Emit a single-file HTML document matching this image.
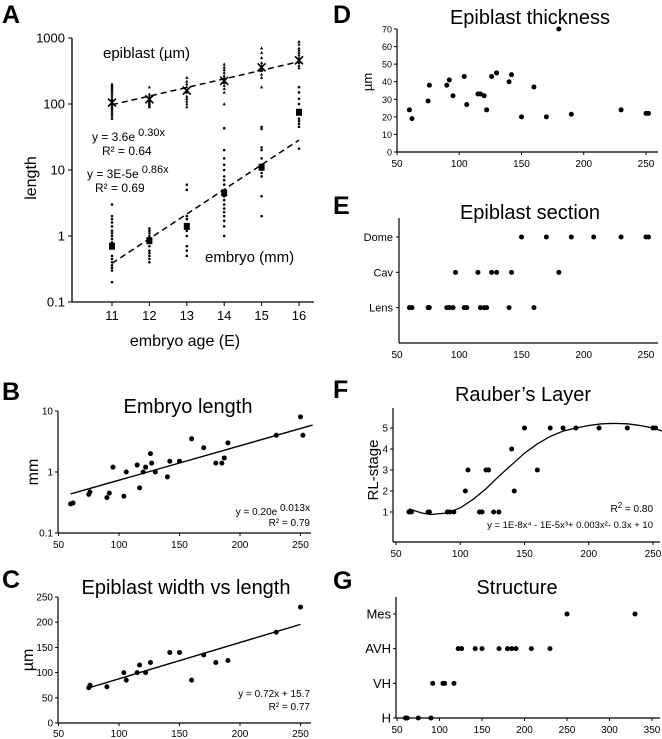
<!DOCTYPE html>
<html><head><meta charset="utf-8"><style>
body{margin:0;background:#fff}
svg{display:block;font-family:"Liberation Sans",Arial,sans-serif}
</style></head><body>
<svg id="fig" width="662" height="739" viewBox="0 0 662 739"></svg>
<script>
// ---------- Panel A data ----------
const aAges=[11,12,13,14,15,16];
const aEpiPts=[[60,65,70,75,80,85,90,95,100,110,115,120,130,140,150,160,170,180,190,200],[90,95,100,105,110,115,120,130,140,180],[90,100,110,120,130,150,160,180,200,220,250],[100,150,170,190,210,230,250,270,300,330,360,400],[180,250,280,320,350,380,420,500,600,700],[350,380,420,450,500,550,600,650,700,800,880]];
const aEpiMean=[105,118,160,225,360,460];
const aEmbPts=[[0.2,0.3,0.33,0.36,0.4,0.45,0.5,0.8,0.9,1.0,1.1,1.2,1.4,1.6,1.8,2.0,3.0],[0.4,0.45,0.5,0.55,0.6,0.7,0.9,1.0,1.1,1.2,1.3],[0.5,0.6,0.7,1.0,1.2,1.5,1.8,2.0,5.0,6.0],[1.0,1.4,1.7,2.0,2.3,2.6,3.0,3.5,4.0,6.0,7.0,8.0,10,12,15,20,43],[2,4,8,9,12,15,20,22,42,45],[21,45,50,55,60,100,120,150,180]];
const aEmbMean=[0.7,0.85,1.4,4.5,11,75];
const aYTicks=[0.1,1,10,100,1000];
const aYLabels=["0.1","1","10","100","1000"];
// ---------- Panel B ----------
const bX=[60,62,75,76,90,92,95,104,106,115,117,120,122,126,127,130,140,142,150,160,170,180,185,187,190,230,250,252];
const bY=[0.30,0.31,0.43,0.47,0.38,0.45,1.2,0.40,1.0,1.3,0.55,1.0,1.2,2.0,1.4,1.0,0.83,1.5,1.5,3.5,2.5,1.4,1.4,1.7,3.0,4.0,8.0,4.0];
const bYTicks=[0.1,1,10];
const bYLabels=["0.1","1","10"];
// ---------- Panel C ----------
const cX=[75,76,90,104,106,115,117,122,126,142,150,160,170,180,190,230,250];
const cY=[70,75,72,100,85,100,115,100,120,140,140,85,135,120,124,180,230];
const cYTicks=[0,50,100,150,200,250];
// ---------- Panel D ----------
const dX=[60,62,75,76,90,92,95,104,106,115,117,120,122,126,130,140,142,150,160,170,180,190,230,250,252];
const dY=[24,19,29,38,38,41,32,43,27,33,33,32,24,43,45,40,44,20,37,20,70,21.5,24,22,22];
const dYTicks=[0,10,20,30,40,50,60,70];
// ---------- Panel E ----------
const eCats=["Lens","Cav","Dome"];
const eX=[60,62,75,76,90,92,95,104,106,117,120,122,140,160,97,115,126,130,142,180,150,170,190,208,230,250,252];
const eY=[1,1,1,1,1,1,1,1,1,1,1,1,1,1,2,2,2,2,2,2,3,3,3,3,3,3,3];
// ---------- Panel F ----------
const fX=[60,62,75,76,90,92,95,104,106,115,117,120,122,126,130,140,142,150,160,170,180,190,208,230,250,252];
const fY=[1,1,1,1,1,1,1,2,3,1,1,3,3,1,1,4,2,5,3,5,5,5,5,5,5,5];
const fFitX=[60,70,77,90,100,110,120,130,140,150,160,170,180,190,200,210,220,230,240,250,260];
const fFitY=[1.15,0.95,0.88,0.95,1.2,1.6,2.1,2.7,3.25,3.8,4.25,4.6,4.85,5.0,5.12,5.2,5.22,5.2,5.12,5.0,4.8];
const fYTicks=[1,2,3,4,5];
// ---------- Panel G ----------
const gCats=["H","VH","AVH","Mes"];
const gX=[60,62,75,90,92,104,106,117,122,126,142,150,170,180,185,190,208,230,250,330];
const gY=[0,0,0,0,1,1,1,1,2,2,2,2,2,2,2,2,2,2,3,3];
const xTicks250=[50,100,150,200,250];
const gXTicks=[50,100,150,200,250,300,350];

const NS="http://www.w3.org/2000/svg";
const svg=document.getElementById('fig');
function el(tag,attrs,parent,txt){const e=document.createElementNS(NS,tag);for(const k in attrs)e.setAttribute(k,attrs[k]);if(txt!==undefined)e.textContent=txt;(parent||svg).appendChild(e);return e;}
function grp(name){const g=el('g',{});return g;}
function txt(g,x,y,s,size,anchor,name,extra){const t=el('text',Object.assign({x:x,y:y,'font-size':size,'text-anchor':anchor||'start',fill:'#000'},extra||{}),g,s);return t;}
function line(g,x1,y1,x2,y2,w,dash){return el('line',Object.assign({x1:x1,y1:y1,x2:x2,y2:y2,stroke:'#000','stroke-width':w||1},dash?{'stroke-dasharray':dash}:{}),g);}
function dot(g,x,y,r,name){const c=el('circle',{cx:x,cy:y,r:r,fill:'#000'},g);return c;}
function lin(d0,d1,r0,r1){return v=>r0+(v-d0)/(d1-d0)*(r1-r0);}
function logs(d0,d1,r0,r1){return v=>r0+(Math.log10(v)-Math.log10(d0))/(Math.log10(d1)-Math.log10(d0))*(r1-r0);}

// ===== Panel A =====
(function(){
 const g=grp('panel-a');
 const x=lin(11,16,112,299), y=logs(0.1,1000,302,38);
 txt(g,2,23,'A',25,'start','panel-label-a',{'font-weight':'bold'});
 line(g,72,38,72,302,1.3); line(g,72,302,314,302,1.3);
 aYTicks.forEach((v,i)=>{line(g,68,y(v),72,y(v));txt(g,65,y(v)+4.5,aYLabels[i],13,'end','y-tick-label');});
 aAges.forEach(a=>{line(g,x(a),302,x(a),306);txt(g,x(a),320,String(a),13,'middle','x-tick-label');});
 txt(g,185,346,'embryo age (E)',16,'middle','x-axis-title');
 txt(g,0,0,'length',16,'middle','y-axis-title',{transform:'translate(36,178) rotate(-90)'});
 const ef=a=>3.6*Math.exp(0.30*a), mf=a=>3e-5*Math.exp(0.86*a);
 const l1=line(g,x(11),y(ef(11)),x(16),y(ef(16)),1.5,'6,4');
 const l2=line(g,x(11),y(mf(11)),x(16),y(mf(16)),1.5,'6,4');
 aAges.forEach((a,i)=>{
  aEpiPts[i].forEach(v=>{const p=el('polygon',{points:`${x(a)},${y(v)-1.8} ${x(a)-1.6},${y(v)+1.2} ${x(a)+1.6},${y(v)+1.2}`,fill:'#000'},g);});
  aEmbPts[i].forEach(v=>{dot(g,x(a),y(v),1.3,'embryo-point');});
  const ym=y(aEpiMean[i]);
  const m=el('path',{d:`M${x(a)-4},${ym-4}L${x(a)+4},${ym+4}M${x(a)-4},${ym+4}L${x(a)+4},${ym-4}`,stroke:'#000','stroke-width':1.6},g);
  const yq=y(aEmbMean[i]);
  const s=el('rect',{x:x(a)-3,y:yq-3.5,width:6,height:7,fill:'#000'},g);
 });
 txt(g,103,58,'epiblast (\u00b5m)',15,'start','epiblast-label');
 txt(g,205,262,'embryo (mm)',15,'start','embryo-label');
 const t1=txt(g,92,141,'y = 3.6e',12,'start','epiblast-equation');el('tspan',{dy:-5,'font-size':11},t1,' 0.30x');
 txt(g,102,155,'R\u00b2 = 0.64',12,'start','epiblast-r2');
 const t2=txt(g,87,178,'y = 3E-5e',12,'start','embryo-equation');el('tspan',{dy:-5,'font-size':11},t2,' 0.86x');
 txt(g,95,192,'R\u00b2 = 0.69',12,'start','embryo-r2');
})();

function scatterAxes(g,x0,y0,x1,yTop){line(g,x0,yTop,x0,y0,1.2);line(g,x0,y0,x1,y0,1.2);}

// ===== Panel B =====
(function(){
 const g=grp('panel-b');
 const x=lin(50,250,58.5,300.5), y=logs(0.1,10,533,411);
 txt(g,2,400,'B',25,'start','panel-label-b',{'font-weight':'bold'});
 scatterAxes(g,58,533,311,411);
 bYTicks.forEach((v,i)=>{line(g,55,y(v),58,y(v));txt(g,53,y(v)+3.5,bYLabels[i],10,'end','y-tick-label');});
 xTicks250.forEach(v=>{line(g,x(v),533,x(v),536);txt(g,x(v),548,String(v),10,'middle','x-tick-label');});
 txt(g,188,413,'Embryo length',20,'middle','chart-title');
 txt(g,0,0,'mm',16,'middle','y-axis-title',{transform:'translate(38,472) rotate(-90)'});
 const f=v=>0.20*Math.exp(0.013*v);
 const tl=line(g,x(60),y(f(60)),x(260),y(f(260)),1.4);
 bX.forEach((v,i)=>dot(g,x(v),y(bY[i]),2.5,'data-point'));
 const t=txt(g,310,515,'y = 0.20e',10,'end','equation');
 el('tspan',{dy:-4},t,' 0.013x');
 txt(g,310,526,'R\u00b2 = 0.79',10,'end','r-squared');
})();

// ===== Panel C =====
(function(){
 const g=grp('panel-c');
 const x=lin(50,250,58.5,300.5), y=lin(0,250,723,597);
 txt(g,2,588,'C',25,'start','panel-label-c',{'font-weight':'bold'});
 scatterAxes(g,58,723,311,597);
 cYTicks.forEach(v=>{line(g,55,y(v),58,y(v));txt(g,53,y(v)+3.5,String(v),10,'end','y-tick-label');});
 xTicks250.forEach(v=>{line(g,x(v),723,x(v),726);txt(g,x(v),737,String(v),10,'middle','x-tick-label');});
 txt(g,186,594,'Epiblast width vs length',20,'middle','chart-title');
 txt(g,0,0,'\u00b5m',16,'middle','y-axis-title',{transform:'translate(33,660) rotate(-90)'});
 const f=v=>0.72*v+15.7;
 const tl=line(g,x(75),y(f(75)),x(250),y(f(250)),1.4);
 cX.forEach((v,i)=>dot(g,x(v),y(cY[i]),2.5,'data-point'));
 txt(g,310,697,'y = 0.72x + 15.7',10,'end','equation');
 txt(g,310,710,'R\u00b2 = 0.77',10,'end','r-squared');
})();

// ===== Panel D =====
(function(){
 const g=grp('panel-d');
 const x=lin(50,250,397,646), y=lin(0,70,152,29);
 txt(g,333,23,'D',25,'start','panel-label-d',{'font-weight':'bold'});
 scatterAxes(g,397,152,658,29);
 dYTicks.forEach(v=>{line(g,394,y(v),397,y(v));txt(g,392,y(v)+3.5,String(v),9,'end','y-tick-label');});
 xTicks250.forEach(v=>{line(g,x(v),152,x(v),155);txt(g,x(v),167,String(v),10,'middle','x-tick-label');});
 txt(g,530,24,'Epiblast thickness',20,'middle','chart-title');
 txt(g,0,0,'\u00b5m',13,'middle','y-axis-title',{transform:'translate(372,82) rotate(-90)'});
 dX.forEach((v,i)=>dot(g,x(v),y(dY[i]),2.5,'data-point'));
})();

// ===== Panel E =====
(function(){
 const g=grp('panel-e');
 const x=lin(50,250,397,646), y=lin(0,3,343,237);
 txt(g,333,214,'E',25,'start','panel-label-e',{'font-weight':'bold'});
 scatterAxes(g,399,343,658,218);
 eCats.forEach((c,i)=>{const yy=y(i+1);line(g,396,yy,399,yy);txt(g,393,yy+4,c,11,'end','y-tick-label');});
 xTicks250.forEach(v=>{txt(g,x(v),358,String(v),10,'middle','x-tick-label');});
 txt(g,530,219,'Epiblast section',20,'middle','chart-title');
 eX.forEach((v,i)=>dot(g,x(v),y(eY[i]),2.5,'data-point'));
})();

// ===== Panel F =====
(function(){
 const g=grp('panel-f');
 const x=lin(50,250,396,653), y=lin(1,5,512,428);
 txt(g,333,398,'F',25,'start','panel-label-f',{'font-weight':'bold'});
 scatterAxes(g,393,542,660,408);
 fYTicks.forEach(v=>{line(g,390,y(v),393,y(v));txt(g,388,y(v)+3.5,String(v),10,'end','y-tick-label');});
 xTicks250.forEach(v=>{line(g,x(v),542,x(v),545);txt(g,x(v),557,String(v),10,'middle','x-tick-label');});
 txt(g,523,401,"Rauber\u2019s Layer",20,'middle','chart-title');
 txt(g,0,0,'RL-stage',15,'middle','y-axis-title',{transform:'translate(378,470) rotate(-90)'});
 let d='';fFitX.forEach((v,i)=>{d+=(i?'L':'M')+x(v).toFixed(1)+','+y(fFitY[i]).toFixed(1);});
 const p=el('path',{d:d,fill:'none',stroke:'#000','stroke-width':1.3},g);
 fX.forEach((v,i)=>dot(g,x(v),y(fY[i]),2.5,'data-point'));
 const r=txt(g,653,512,'R',10,'end','r-squared');el('tspan',{dy:-4,'font-size':8},r,'2');el('tspan',{dy:4},r,' = 0.80');
 txt(g,653,528,'y = 1E-8x\u2074 - 1E-5x\u00b3+ 0.003x\u00b2- 0.3x + 10',9.5,'end','equation');
})();

// ===== Panel G =====
(function(){
 const g=grp('panel-g');
 const x=lin(50,350,397,652), y=lin(0,3,718,614);
 txt(g,333,589,'G',25,'start','panel-label-g',{'font-weight':'bold'});
 scatterAxes(g,396,718,660,597);
 gCats.forEach((c,i)=>{const yy=y(i);line(g,393,yy,396,yy);txt(g,391,yy+4.5,c,13,'end','y-tick-label');});
 gXTicks.forEach(v=>{line(g,x(v),718,x(v),721);txt(g,x(v),733,String(v),10,'middle','x-tick-label');});
 txt(g,517,594,'Structure',20,'middle','chart-title');
 gX.forEach((v,i)=>dot(g,x(v),y(gY[i]),2.5,'data-point'));
})();
</script>
</body></html>
